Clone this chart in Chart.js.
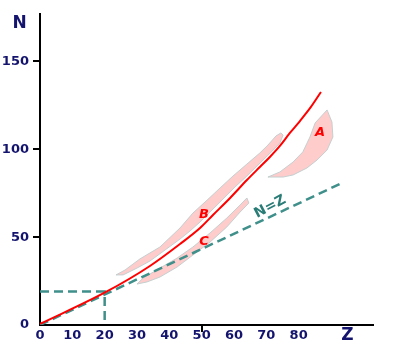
<!DOCTYPE html>
<html>
<head>
<meta charset="utf-8">
<script src="https://cdn.jsdelivr.net/npm/chart.js@4.4.1/dist/chart.umd.min.js"></script>
<style>
  html, body { margin: 0; padding: 0; background: #ffffff; }
  canvas { display: block; }
</style>
</head>
<body>
<canvas id="c" width="414" height="352"></canvas>
<script>
// ---- data (Z, N) ----
const xTickLabels = [0, 10, 20, 30, 40, 50, 60, 70, 80];
const yTickLabels = [0, 50, 100, 150];

const stabilityZ = [0, 20.4, 34.0, 43.3, 49.5, 53.5, 58.8, 64.0, 68.0, 71.1, 74.2, 77.3, 80.4, 83.8, 86.9];
const stabilityN = [0.6, 18.8, 33.6, 46.1, 55.2, 62.6, 72.3, 82.5, 89.9, 95.6, 101.9, 109.3, 116.1, 124.1, 132.6];

const nEqZ_Z = [0, 92.8];
const nEqZ_N = [0, 80.3];

const guideZ = [0, 20, 20];
const guideN = [19, 19, 0];

const regionA_Z = [70.5, 74.2, 78.3, 81.3, 83.5, 85.1, 88.8, 90.3, 90.6, 88.8, 85.7, 82.6, 78.3, 75.2, 70.5];
const regionA_N = [84.2, 87.1, 92.8, 98.5, 107.0, 115.0, 122.4, 115.5, 107.0, 99.6, 93.9, 89.4, 85.4, 84.2, 84.2];

const regionB_Z = [23.5, 26.3, 30.9, 37.1, 43.3, 47.3, 51.7, 55.7, 59.7, 64.0, 68.0, 70.5, 73.0, 74.5, 75.2,
                   74.2, 71.8, 69.0, 66.5, 64.0, 60.3, 56.3, 52.6, 49.5, 46.4, 43.3, 38.7, 34.0, 30.0, 25.7, 23.5];
const regionB_N = [28.5, 31.3, 37.6, 44.4, 55.2, 63.7, 71.1, 78.0, 84.8, 91.6, 97.9, 102.4, 107.6, 109.3, 108.1,
                   103.6, 99.0, 93.9, 89.4, 84.8, 78.5, 71.1, 64.3, 58.6, 53.5, 48.9, 42.7, 36.4, 32.4, 28.5, 28.5];

const regionC_Z = [64.0, 64.6, 61.9, 57.8, 52.6, 47.3, 42.4, 37.1, 33.1, 30.0, 31.9, 37.1, 42.4, 47.3, 52.6, 57.8, 61.9, 64.0];
const regionC_N = [72.3, 69.4, 64.3, 55.8, 47.2, 39.8, 33.0, 27.3, 24.5, 23.3, 26.7, 32.4, 38.1, 44.4, 52.4, 60.9, 68.3, 72.3];

const regionLabels = [
  { text: 'A', z: 86.6, n: 109.3 },
  { text: 'B', z: 50.7, n: 62.6 },
  { text: 'C', z: 50.7, n: 47.2 }
];
const lineLabel = { text: 'N=Z', z: 71.2, n: 67.2, angle: -28 };

const toPts = (xs, ys) => xs.map((x, i) => ({ x: x, y: ys[i] }));

const NAVY = '#14146e';
const TEAL = '#3f8f8a';
const PINK = '#ffcccc';
const PINK_EDGE = 'rgba(190,205,205,0.9)';

const regionDs = (xs, ys) => ({
  data: toPts(xs, ys),
  showLine: true,
  fill: 'shape',
  backgroundColor: PINK,
  borderColor: PINK_EDGE,
  borderWidth: 1,
  pointRadius: 0,
  tension: 0,
  order: 3
});

const textPlugin = {
  id: 'texts',
  afterDatasetsDraw(chart) {
    const ctx = chart.ctx;
    const xs = chart.scales.x, ys = chart.scales.y;
    const area = chart.chartArea;
    ctx.save();
    ctx.textAlign = 'center';
    ctx.textBaseline = 'middle';
    ctx.fillStyle = '#ff0000';
    ctx.font = 'italic bold 13px "DejaVu Sans"';
    regionLabels.forEach(l => {
      ctx.fillText(l.text, xs.getPixelForValue(l.z), ys.getPixelForValue(l.n));
    });
    ctx.save();
    ctx.translate(xs.getPixelForValue(lineLabel.z), ys.getPixelForValue(lineLabel.n));
    ctx.rotate(lineLabel.angle * Math.PI / 180);
    ctx.fillStyle = '#2a7c77';
    ctx.font = 'bold 14px "DejaVu Sans"';
    ctx.fillText(lineLabel.text, 0, 0);
    ctx.restore();
    ctx.fillStyle = NAVY;
    ctx.font = 'bold 17px "DejaVu Sans"';
    ctx.fillText('N', area.left - 20.5, area.top + 10);
    ctx.fillText('Z', area.right - 25.5, area.bottom + 11);
    ctx.restore();
  }
};

new Chart(document.getElementById('c'), {
  type: 'scatter',
  data: {
    datasets: [
      {
        data: toPts(stabilityZ, stabilityN),
        showLine: true,
        borderColor: '#ff0000',
        borderWidth: 2,
        pointRadius: 0,
        cubicInterpolationMode: 'monotone',
        fill: false,
        order: 0
      },
      {
        data: toPts(nEqZ_Z, nEqZ_N),
        showLine: true,
        borderColor: TEAL,
        borderWidth: 2.5,
        borderDash: [9, 5],
        pointRadius: 0,
        fill: false,
        order: 1
      },
      {
        data: toPts(guideZ, guideN),
        showLine: true,
        borderColor: TEAL,
        borderWidth: 2.5,
        borderDash: [9, 5],
        pointRadius: 0,
        fill: false,
        order: 1
      },
      regionDs(regionA_Z, regionA_N),
      regionDs(regionB_Z, regionB_N),
      regionDs(regionC_Z, regionC_N)
    ]
  },
  options: {
    responsive: false,
    animation: false,
    devicePixelRatio: 1,
    layout: { padding: { left: 0, top: 14, right: 41, bottom: 0 } },
    plugins: { legend: { display: false }, tooltip: { enabled: false }, title: { display: false } },
    scales: {
      x: {
        type: 'linear',
        min: 0,
        max: 103,
        afterFit(scale) { scale.height = 27; },
        afterBuildTicks(scale) { scale.ticks = xTickLabels.map(v => ({ value: v })); },
        border: { display: true, color: '#000000', width: 2 },
        grid: {
          drawOnChartArea: false,
          drawTicks: true,
          tickLength: 7,
          lineWidth: 2,
          color: c => (c.tick && c.tick.value === 50) ? '#000000' : 'rgba(0,0,0,0)'
        },
        ticks: {
          autoSkip: false,
          maxRotation: 0,
          padding: -4,
          color: NAVY,
          font: { family: 'DejaVu Sans', size: 13, weight: 'bold' },
          callback: v => String(v)
        }
      },
      y: {
        type: 'linear',
        min: 0,
        max: 177,
        afterFit(scale) { scale.width = 40; },
        afterBuildTicks(scale) { scale.ticks = yTickLabels.map(v => ({ value: v })); },
        border: { display: true, color: '#000000', width: 2 },
        grid: {
          drawOnChartArea: false,
          drawTicks: true,
          tickLength: 7,
          lineWidth: 2,
          color: c => (c.tick && c.tick.value > 0) ? '#000000' : 'rgba(0,0,0,0)'
        },
        ticks: {
          autoSkip: false,
          padding: 4,
          color: NAVY,
          font: { family: 'DejaVu Sans', size: 13, weight: 'bold' },
          callback: v => String(v)
        }
      }
    }
  },
  plugins: [textPlugin]
});
</script>
</body>
</html>
